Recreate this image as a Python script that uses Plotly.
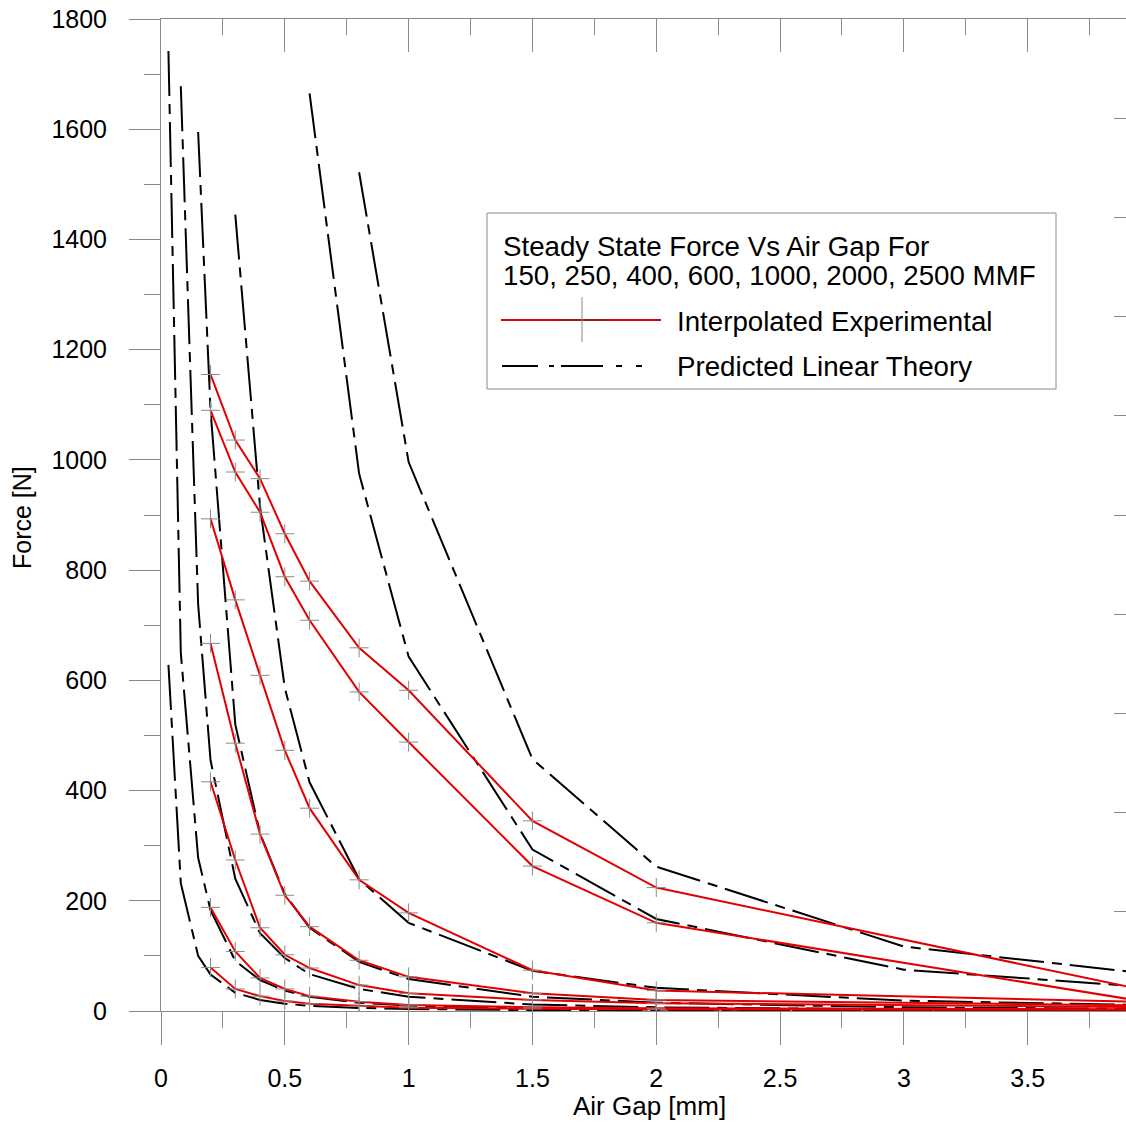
import plotly.graph_objects as go

# ---------------- data ----------------
mmf_levels = [150, 250, 400, 600, 1000, 2000, 2500]

exp_gap = [0.2, 0.3, 0.4, 0.5, 0.6, 0.8, 1.0, 1.5, 2.0, 4.0]
exp_150 = [79, 40, 27, 18, 13, 9, 6, 4, 3, 2]
exp_250 = [188, 108, 60, 40, 27, 17, 11, 7, 5, 3]
exp_400 = [416, 274, 151, 102, 78, 47, 32, 20, 14, 7]
exp_600 = [667, 486, 321, 210, 153, 92, 62, 32, 20, 10]
exp_1000 = [893, 746, 609, 473, 368, 238, 178, 74, 37, 16]
exp_2000 = [1090, 978, 905, 788, 709, 579, 488, 263, 160, 15]
exp_2500 = [1155, 1036, 966, 866, 780, 659, 582, 345, 224, 35]

theory_gap = [0.03, 0.08, 0.15, 0.2, 0.3, 0.4, 0.5, 0.6, 0.8, 1.0, 1.5, 2.0, 3.0, 4.0]
th_150 = [628, 232, 100, 66, 33, 20, 13.2, 9.4, 5.5, 3.6, 1.65, 0.94, 0.42, 0.24]
th_250 = [1742, 650, 278, 183, 91, 56, 37, 26, 15, 10, 4.6, 2.6, 1.2, 0.7]
th_400 = [None, 1678, 738, 455, 240, 141, 96, 67, 40, 26, 11.7, 6.7, 3.0, 1.7]
th_600 = [None, None, 1595, 1090, 520, 322, 212, 151, 89, 58, 26, 15, 6.7, 3.8]
th_1000 = [None, None, None, None, 1445, 915, 586, 415, 239, 160, 73, 42, 18.7, 10.7]
th_2000 = [None, None, None, None, None, None, None, 1665, 975, 643, 293, 167, 75, 43]
th_2500 = [None, None, None, None, None, None, None, None, 1522, 996, 457, 262, 117, 67]

x_ticks = [0, 0.5, 1, 1.5, 2, 2.5, 3, 3.5]
y_ticks = [0, 200, 400, 600, 800, 1000, 1200, 1400, 1600, 1800]

legend_title_1 = "Steady State Force Vs Air Gap For"
legend_title_2 = "150, 250, 400, 600, 1000, 2000, 2500 MMF"
legend_exp = "Interpolated Experimental"
legend_th = "Predicted Linear Theory"

# ---------------- styles ----------------
RED = "#e20000"
GRAY = "#8a8a8a"
FONT = "Liberation Sans, Arial, sans-serif"
TH_DASH = "45px,8px,10px,8px"

fig = go.Figure()

theory_series = [th_150, th_250, th_400, th_600, th_1000, th_2000, th_2500]
exp_series = [exp_150, exp_250, exp_400, exp_600, exp_1000, exp_2000, exp_2500]

for m, ys in zip(mmf_levels, theory_series):
    fig.add_trace(go.Scatter(
        x=theory_gap, y=ys, mode="lines", name=f"Theory {m}",
        line=dict(color="black", width=2, dash=TH_DASH),
        showlegend=False, hoverinfo="skip"))

for m, ys in zip(mmf_levels, exp_series):
    fig.add_trace(go.Scatter(
        x=exp_gap, y=ys, mode="lines+markers", name=f"Experimental {m}",
        line=dict(color=RED, width=2),
        marker=dict(symbol="cross-thin-open", size=13.5,
                    line=dict(color=GRAY, width=1), color=GRAY),
        showlegend=False, hoverinfo="skip"))

# dummy trace to activate top / right decorative axes
fig.add_trace(go.Scatter(x=[], y=[], xaxis="x2", yaxis="y2",
                         showlegend=False, hoverinfo="skip"))

X_RANGE = [0, 3.897]

fig.update_layout(
    template="none",
    width=1126, height=1122,
    margin=dict(l=161, r=0, t=19, b=111, pad=0),
    paper_bgcolor="white", plot_bgcolor="white",
    font=dict(family=FONT, size=25, color="black"),
    showlegend=False,
    xaxis=dict(
        range=X_RANGE, autorange=False, automargin=False,
        tickvals=x_ticks, ticktext=[f"{v:g}" for v in x_ticks],
        ticks="outside", ticklen=33, tickwidth=1, tickcolor=GRAY,
        showline=True, linecolor=GRAY, linewidth=1, mirror=False,
        showgrid=False, zeroline=False,
        tickfont=dict(family=FONT, size=25, color="black"),
        ticklabelstandoff=12,
        minor=dict(dtick=0.25, tick0=0, ticks="outside", ticklen=16,
                   tickwidth=1, tickcolor=GRAY, showgrid=False),
    ),
    yaxis=dict(
        range=[0, 1800], autorange=False, automargin=False,
        tickvals=y_ticks, ticktext=[str(v) for v in y_ticks],
        ticks="outside", ticklen=31, tickwidth=1, tickcolor=GRAY,
        showline=True, linecolor=GRAY, linewidth=1, mirror=False,
        showgrid=False, zeroline=False,
        tickfont=dict(family=FONT, size=25, color="black"),
        ticklabelstandoff=17,
        minor=dict(dtick=100, tick0=0, ticks="outside", ticklen=16,
                   tickwidth=1, tickcolor=GRAY, showgrid=False),
    ),
    xaxis2=dict(
        overlaying="x", side="top", range=X_RANGE, autorange=False,
        automargin=False, showticklabels=False,
        dtick=0.5, tick0=0, ticks="inside", ticklen=33, tickwidth=1,
        tickcolor=GRAY, showline=True, linecolor=GRAY, linewidth=1,
        showgrid=False, zeroline=False,
        minor=dict(dtick=0.25, tick0=0, ticks="inside", ticklen=16,
                   tickwidth=1, tickcolor=GRAY, showgrid=False),
    ),
    yaxis2=dict(
        overlaying="y", side="right", range=[0, 10], autorange=False,
        automargin=False, showticklabels=False,
        dtick=1, tick0=0, ticks="inside", ticklen=12, tickwidth=1,
        tickcolor=GRAY, showline=False, showgrid=False, zeroline=False,
    ),
)

# ---------------- axis titles ----------------
fig.add_annotation(text="Air Gap [mm]", xref="paper", yref="paper",
                   x=0.5067, y=-0.0958, xanchor="center", yanchor="middle",
                   showarrow=False, font=dict(family=FONT, size=26, color="black"))
fig.add_annotation(text="Force [N]", xref="paper", yref="paper",
                   x=-0.144, y=0.497, xanchor="center", yanchor="middle",
                   textangle=-90, showarrow=False,
                   font=dict(family=FONT, size=25, color="black"))

# ---------------- manual legend ----------------
def px_x(p):
    return (p - 161) / 965.0

def px_y(p):
    return (1011 - p) / 992.0

fig.add_shape(type="rect", xref="paper", yref="paper",
              x0=px_x(487), x1=px_x(1056), y0=px_y(389), y1=px_y(213),
              line=dict(color=GRAY, width=1), fillcolor="white", layer="above")
fig.add_shape(type="line", xref="paper", yref="paper",
              x0=px_x(501), x1=px_x(661), y0=px_y(320), y1=px_y(320),
              line=dict(color=RED, width=2), layer="above")
fig.add_shape(type="line", xref="paper", yref="paper",
              x0=px_x(559), x1=px_x(605), y0=px_y(320), y1=px_y(320),
              line=dict(color="#a01818", width=2), layer="above")
fig.add_shape(type="line", xref="paper", yref="paper",
              x0=px_x(582), x1=px_x(582), y0=px_y(342), y1=px_y(297),
              line=dict(color=GRAY, width=1), layer="above")
fig.add_shape(type="line", xref="paper", yref="paper",
              x0=px_x(502), x1=px_x(642), y0=px_y(366), y1=px_y(366),
              line=dict(color="black", width=2,
                        dash="36px,11px,5px,7px,42px,13px,6px,14px,6px,1px"),
              layer="above")

for txt, xp, yp in [(legend_title_1, 501, 246), (legend_title_2, 501, 276),
                    (legend_exp, 675, 321), (legend_th, 675, 366)]:
    fig.add_annotation(text=txt, xref="paper", yref="paper",
                       x=px_x(xp), y=px_y(yp), xanchor="left", yanchor="middle",
                       showarrow=False,
                       font=dict(family=FONT, size=27.7, color="black"))

fig.write_html(
    "out.html",
    config={"displayModeBar": False},
    post_script="document.body.style.margin='0';"
                "document.body.style.padding='0';"
                "document.body.style.overflow='hidden';"
                "document.documentElement.style.overflow='hidden';",
)
